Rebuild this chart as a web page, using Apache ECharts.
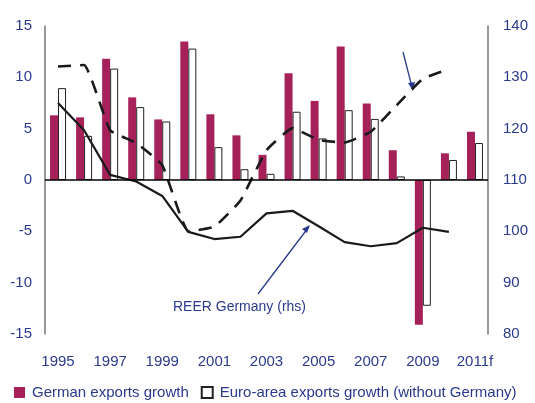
<!DOCTYPE html>
<html>
<head>
<meta charset="utf-8">
<script src="https://cdn.jsdelivr.net/npm/echarts@6/dist/echarts.min.js"></script>
<style>
  html, body { margin: 0; padding: 0; background: #fff; }
  #chart { width: 535px; height: 403px; }
</style>
</head>
<body>
<div id="chart"></div>
<script>
const years = ['1995', '1996', '1997', '1998', '1999', '2000', '2001', '2002', '2003',
  '2004', '2005', '2006', '2007', '2008', '2009', '2010', '2011f']

const germanExports = [6.3, 6.1, 11.8, 8.05, 5.9, 13.5, 6.4, 4.35, 2.45,
  10.4, 7.7, 13.0, 7.45, 2.9, -14.1, 2.6, 4.7]
const euroExports = [8.95, 4.3, 10.85, 7.1, 5.7, 12.8, 3.2, 1.05, 0.6,
  6.65, 4.05, 6.8, 5.95, 0.35, -12.25, 1.95, 3.6]

// right hand scale
const reerGermany = [125, 119.7, 111, 109.7, 106.9, 99.9, 98.5, 98.95, 103.5,
  104, 101, 97.9, 97.1, 97.7, 100.7, 99.9, null]
const dashedIndex = [132.1, 132.4, 119.7, 117.2, 112.9, 100, 100.9, 106, 115.8,
  120.1, 117.8, 117.3, 119.4, 124.6, 129.7, 131.6, null]

const navy = '#2a3a8c'
const font = '"Liberation Sans", Arial, sans-serif'

const chart = echarts.init(document.getElementById('chart'))

const option = {
  animation: false,
  textStyle: { fontFamily: font },
  grid: { left: 45, right: 47, top: 26, bottom: 69 },
  legend: {
    left: 14,
    right: 0,
    bottom: 3,
    orient: 'horizontal',
    itemWidth: 11,
    itemHeight: 11,
    itemGap: 12,
    padding: 0,
    icon: 'rect',
    textStyle: { color: navy, fontSize: 15, fontFamily: font, padding: [0, 0, 0, 2] },
    data: ['German exports growth', 'Euro-area exports growth (without Germany)'],
  },
  xAxis: {
    type: 'category',
    data: years,
    axisLine: { show: false, onZero: false },
    axisTick: { show: false },
    axisLabel: { interval: 1, margin: 20, color: navy, fontSize: 15, fontFamily: font },
  },
  yAxis: [
    {
      type: 'value',
      min: -15,
      max: 15,
      interval: 5,
      splitLine: { show: false },
      axisLine: { show: true, lineStyle: { color: '#777', width: 1.5 } },
      axisTick: { show: false },
      axisLabel: { margin: 13, color: navy, fontSize: 15, fontFamily: font },
    },
    {
      type: 'value',
      min: 80,
      max: 140,
      interval: 10,
      splitLine: { show: false },
      axisLine: { show: true, lineStyle: { color: '#777', width: 1.5 } },
      axisTick: { show: false },
      axisLabel: { margin: 15, color: navy, fontSize: 15, fontFamily: font },
    },
  ],
  series: [
    {
      name: 'German exports growth',
      type: 'bar',
      data: germanExports,
      barWidth: 8,
      barGap: '0%',
      itemStyle: { color: '#a6215a' },
      markLine: {
        silent: true,
        symbol: 'none',
        label: { show: false },
        lineStyle: { color: '#000', width: 1.5, type: 'solid' },
        data: [{ yAxis: 0 }],
      },
    },
    {
      name: 'Euro-area exports growth (without Germany)',
      type: 'bar',
      data: euroExports,
      barWidth: 8,
      itemStyle: { color: '#fff', borderColor: '#222', borderWidth: 1 },
    },
    {
      name: 'REER Germany (rhs)',
      type: 'line',
      yAxisIndex: 1,
      data: reerGermany,
      symbol: 'none',
      lineStyle: { color: '#1a1a1a', width: 2.2 },
    },
    {
      name: 'Index (rhs)',
      type: 'line',
      yAxisIndex: 1,
      data: dashedIndex,
      symbol: 'none',
      smooth: 0.12,
      lineStyle: { color: '#1a1a1a', width: 2.6, type: [13, 9] },
    },
  ],
  graphic: [
    {
      type: 'text',
      left: 173,
      top: 300,
      style: { text: 'REER Germany (rhs)', fill: navy, font: '14px ' + font },
    },
    {
      type: 'line',
      shape: { x1: 258, y1: 294, x2: 308, y2: 228 },
      style: { stroke: navy, lineWidth: 1.3 },
    },
    {
      type: 'polygon',
      shape: { points: [[310, 225], [302, 229], [307, 233]] },
      style: { fill: navy },
    },
    {
      type: 'line',
      shape: { x1: 403, y1: 52, x2: 412, y2: 87 },
      style: { stroke: navy, lineWidth: 1.3 },
    },
    {
      type: 'polygon',
      shape: { points: [[413, 91], [408, 83], [415, 82]] },
      style: { fill: navy },
    },
  ],
}

chart.setOption(option)
</script>
</body>
</html>
